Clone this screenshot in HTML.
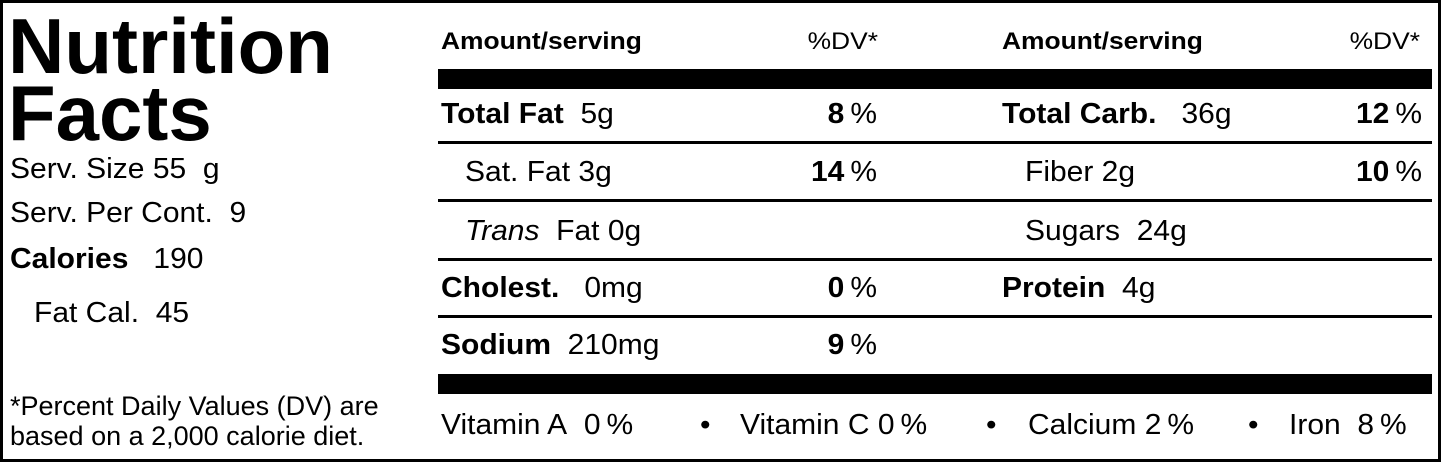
<!DOCTYPE html>
<html><head><meta charset="utf-8"><style>
*{margin:0;padding:0;box-sizing:border-box}
body{width:1445px;height:465px;background:#fff;position:relative;overflow:hidden;font-family:"Liberation Sans",Arial,sans-serif;color:#000}
.box{position:absolute;left:0;top:0;width:1441px;height:462px;border:3px solid #000}
.t{position:absolute;white-space:nowrap;line-height:1;transform-origin:0 0.85em}
.s{font-size:30px;transform:scaleY(0.97)}
.h{font-size:26.4px;transform:scaleY(0.9)}
.b{font-weight:bold}
.r{text-align:right}
.bar{position:absolute;left:438px;width:994px;height:20px;background:#000}
.ln{position:absolute;left:438px;width:994px;height:3px;background:#000}
</style></head><body>
<div class="box"></div>
<div class="t b" style="left:8px;top:7px;font-size:78px">Nutrition</div>
<div class="t b" style="left:8px;top:74px;font-size:78px">Facts</div>
<div class="t s" style="left:10px;top:154px">Serv. Size 55&nbsp; g</div>
<div class="t s" style="left:10px;top:198px">Serv. Per Cont.&nbsp; 9</div>
<div class="t s" style="left:10px;top:244px"><b>Calories</b>&nbsp;&nbsp; 190</div>
<div class="t s" style="left:34px;top:298px">Fat Cal.&nbsp; 45</div>
<div class="t" style="left:10px;top:393px;font-size:27px">*Percent Daily Values (DV) are</div>
<div class="t" style="left:10px;top:423px;font-size:27px">based on a 2,000 calorie diet.</div>

<div class="t b h" style="left:441px;top:27px">Amount/serving</div>
<div class="t r h" style="left:700px;width:178px;top:27px">%DV*</div>
<div class="t b h" style="left:1002px;top:27px">Amount/serving</div>
<div class="t r h" style="left:1240px;width:180px;top:27px">%DV*</div>

<div class="bar" style="top:69px"></div>

<div class="t s" style="left:441px;top:99px"><b>Total Fat</b>&nbsp; 5g</div>
<div class="t r s" style="left:700px;width:177px;top:99px"><b>8</b>&thinsp;%</div>
<div class="t s" style="left:1002px;top:99px"><b>Total Carb.</b>&nbsp;&nbsp; 36g</div>
<div class="t r s" style="left:1240px;width:182px;top:99px"><b>12</b>&thinsp;%</div>
<div class="ln" style="top:141px"></div>

<div class="t s" style="left:465px;top:157px">Sat. Fat 3g</div>
<div class="t r s" style="left:700px;width:177px;top:157px"><b>14</b>&thinsp;%</div>
<div class="t s" style="left:1025px;top:157px">Fiber 2g</div>
<div class="t r s" style="left:1240px;width:182px;top:157px"><b>10</b>&thinsp;%</div>
<div class="ln" style="top:199px"></div>

<div class="t s" style="left:465px;top:216px"><i>Trans</i>&nbsp; Fat 0g</div>
<div class="t s" style="left:1025px;top:216px">Sugars&nbsp; 24g</div>
<div class="ln" style="top:258px"></div>

<div class="t s" style="left:441px;top:273px"><b>Cholest.</b>&nbsp;&nbsp; 0mg</div>
<div class="t r s" style="left:700px;width:177px;top:273px"><b>0</b>&thinsp;%</div>
<div class="t s" style="left:1002px;top:273px"><b>Protein</b>&nbsp; 4g</div>
<div class="ln" style="top:315px"></div>

<div class="t s" style="left:441px;top:330px"><b>Sodium</b>&nbsp; 210mg</div>
<div class="t r s" style="left:700px;width:177px;top:330px"><b>9</b>&thinsp;%</div>

<div class="bar" style="top:374px"></div>

<div class="t s" style="left:441px;top:410px">Vitamin A&nbsp; 0&thinsp;%</div>
<div class="t s" style="left:700px;top:410px">•</div>
<div class="t s" style="left:740px;top:410px">Vitamin C 0&thinsp;%</div>
<div class="t s" style="left:986px;top:410px">•</div>
<div class="t s" style="left:1028px;top:410px">Calcium 2&thinsp;%</div>
<div class="t s" style="left:1248px;top:410px">•</div>
<div class="t s" style="left:1289px;top:410px">Iron&nbsp; 8&thinsp;%</div>
</body></html>
